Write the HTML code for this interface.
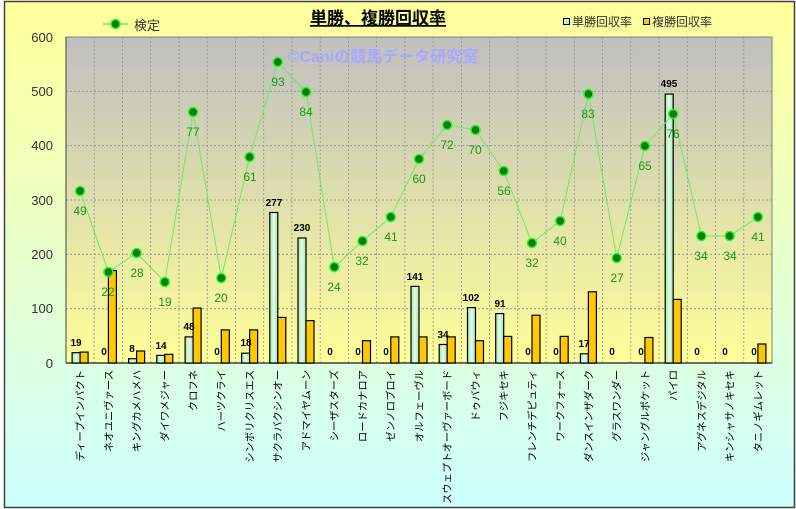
<!DOCTYPE html>
<html><head><meta charset="utf-8"><style>
html,body{margin:0;padding:0;width:796px;height:509px;overflow:hidden;background:#fff}
svg{display:block;font-family:"Liberation Sans","Noto Sans CJK JP",sans-serif}
</style></head><body>
<svg width="796" height="509" viewBox="0 0 796 509" xmlns="http://www.w3.org/2000/svg">
<defs>
<linearGradient id="bg" x1="0" y1="0" x2="0" y2="1"><stop offset="0" stop-color="#ffff99"/><stop offset="0.55" stop-color="#e6ffd0"/><stop offset="1" stop-color="#ccffff"/></linearGradient>
<linearGradient id="pa" x1="0" y1="0" x2="0" y2="1"><stop offset="0" stop-color="#bfbfbf"/><stop offset="1" stop-color="#ffff99"/></linearGradient>
<linearGradient id="gb" x1="0" y1="0" x2="1" y2="0"><stop offset="0" stop-color="#a8e0b0"/><stop offset="0.5" stop-color="#e0ffe6"/><stop offset="1" stop-color="#a8e0b0"/></linearGradient>
</defs>
<rect x="4.5" y="1.5" width="790" height="506" fill="url(#bg)" stroke="#404040" stroke-width="1.5"/>
<rect x="66" y="37" width="706" height="326" fill="url(#pa)" stroke="#808080"/>
<g stroke="#909090" stroke-dasharray="2,2" stroke-width="0.8">
<line x1="66" y1="91.3" x2="772" y2="91.3"/><line x1="66" y1="145.7" x2="772" y2="145.7"/><line x1="66" y1="200" x2="772" y2="200"/><line x1="66" y1="254.3" x2="772" y2="254.3"/><line x1="66" y1="308.7" x2="772" y2="308.7"/>
<line x1="94.2" y1="37" x2="94.2" y2="363"/><line x1="122.5" y1="37" x2="122.5" y2="363"/><line x1="150.7" y1="37" x2="150.7" y2="363"/><line x1="179" y1="37" x2="179" y2="363"/><line x1="207.2" y1="37" x2="207.2" y2="363"/><line x1="235.4" y1="37" x2="235.4" y2="363"/><line x1="263.7" y1="37" x2="263.7" y2="363"/><line x1="291.9" y1="37" x2="291.9" y2="363"/><line x1="320.2" y1="37" x2="320.2" y2="363"/><line x1="348.4" y1="37" x2="348.4" y2="363"/><line x1="376.6" y1="37" x2="376.6" y2="363"/><line x1="404.9" y1="37" x2="404.9" y2="363"/><line x1="433.1" y1="37" x2="433.1" y2="363"/><line x1="461.4" y1="37" x2="461.4" y2="363"/><line x1="489.6" y1="37" x2="489.6" y2="363"/><line x1="517.8" y1="37" x2="517.8" y2="363"/><line x1="546.1" y1="37" x2="546.1" y2="363"/><line x1="574.3" y1="37" x2="574.3" y2="363"/><line x1="602.6" y1="37" x2="602.6" y2="363"/><line x1="630.8" y1="37" x2="630.8" y2="363"/><line x1="659" y1="37" x2="659" y2="363"/><line x1="687.3" y1="37" x2="687.3" y2="363"/><line x1="715.5" y1="37" x2="715.5" y2="363"/><line x1="743.8" y1="37" x2="743.8" y2="363"/>
</g>
<line x1="66" y1="363" x2="772" y2="363" stroke="#404040" stroke-width="1.5"/>
<line x1="66" y1="37" x2="66" y2="363" stroke="#404040" stroke-width="1"/>
<g font-size="13" fill="#333" text-anchor="end">
<text x="53" y="42">600</text><text x="53" y="96">500</text><text x="53" y="150">400</text><text x="53" y="205">300</text><text x="53" y="259">200</text><text x="53" y="313">100</text><text x="53" y="368">0</text>
</g>
<text x="383" y="62" font-size="16" font-weight="bold" fill="#a8a8ff" text-anchor="middle">©Caniの競馬データ研究室</text>
<text x="378" y="24" font-size="17" font-weight="bold" fill="#000" text-anchor="middle" text-decoration="underline">単勝、複勝回収率</text>
<line x1="103" y1="24" x2="128" y2="24" stroke="#66ee66" stroke-width="1.5"/><circle cx="115.5" cy="24" r="4.5" fill="#008000" stroke="#33ee33" stroke-width="1.5"/>
<text x="134" y="30" font-size="13" fill="#333">検定</text>
<rect x="563.5" y="18.5" width="6" height="6" fill="#c8f0d0" stroke="#000"/><text x="572" y="26" font-size="12" fill="#333">単勝回収率</text>
<rect x="643.5" y="18.5" width="6" height="6" fill="#ffc800" stroke="#000"/><text x="652" y="26" font-size="12" fill="#333">複勝回収率</text>
<g stroke="#000" stroke-width="1.2" fill="url(#gb)">
<rect x="72.1" y="352.7" width="8" height="10.3"/>
<rect x="128.6" y="358.7" width="8" height="4.3"/>
<rect x="156.8" y="355.4" width="8" height="7.6"/>
<rect x="185.1" y="336.9" width="8" height="26.1"/>
<rect x="241.6" y="353.2" width="8" height="9.8"/>
<rect x="269.8" y="212.5" width="8" height="150.5"/>
<rect x="298" y="238" width="8" height="125"/>
<rect x="411" y="286.4" width="8" height="76.6"/>
<rect x="439.2" y="344.5" width="8" height="18.5"/>
<rect x="467.5" y="307.6" width="8" height="55.4"/>
<rect x="495.7" y="313.6" width="8" height="49.4"/>
<rect x="580.4" y="353.8" width="8" height="9.2"/>
<rect x="665.2" y="94.1" width="8" height="268.9"/>
</g>
<g stroke="#000" stroke-width="1.2" fill="#ffc800">
<rect x="80.1" y="352.1" width="8" height="10.9"/>
<rect x="108.4" y="270.6" width="8" height="92.4"/>
<rect x="136.6" y="351" width="8" height="12"/>
<rect x="164.8" y="354.3" width="8" height="8.7"/>
<rect x="193.1" y="308.1" width="8" height="54.9"/>
<rect x="221.3" y="329.9" width="8" height="33.1"/>
<rect x="249.6" y="329.9" width="8" height="33.1"/>
<rect x="277.8" y="317.4" width="8" height="45.6"/>
<rect x="306" y="320.6" width="8" height="42.4"/>
<rect x="362.5" y="340.7" width="8" height="22.3"/>
<rect x="390.8" y="336.9" width="8" height="26.1"/>
<rect x="419" y="336.9" width="8" height="26.1"/>
<rect x="447.2" y="336.9" width="8" height="26.1"/>
<rect x="475.5" y="340.7" width="8" height="22.3"/>
<rect x="503.7" y="336.4" width="8" height="26.6"/>
<rect x="532" y="315.2" width="8" height="47.8"/>
<rect x="560.2" y="336.4" width="8" height="26.6"/>
<rect x="588.4" y="291.8" width="8" height="71.2"/>
<rect x="644.9" y="337.5" width="8" height="25.5"/>
<rect x="673.2" y="299.4" width="8" height="63.6"/>
<rect x="757.9" y="344" width="8" height="19"/>
</g>
<g font-size="10" font-weight="bold" fill="#000" text-anchor="middle">
<text x="76" y="346">19</text><text x="104" y="355">0</text><text x="132" y="352">8</text><text x="161" y="349">14</text><text x="189" y="330">48</text><text x="217" y="355">0</text><text x="246" y="346">18</text><text x="274" y="206">277</text><text x="302" y="231">230</text><text x="330" y="355">0</text><text x="358" y="355">0</text><text x="386" y="355">0</text><text x="415" y="280">141</text><text x="443" y="338">34</text><text x="471" y="301">102</text><text x="500" y="307">91</text><text x="528" y="355">0</text><text x="556" y="355">0</text><text x="584" y="347">17</text><text x="612" y="355">0</text><text x="641" y="355">0</text><text x="669" y="87">495</text><text x="697" y="355">0</text><text x="725" y="355">0</text><text x="754" y="355">0</text>
</g>
<polyline fill="none" stroke="#66ee66" stroke-width="1" points="80.1,191 108.4,272 136.6,253 164.8,282 193.1,112 221.3,278 249.6,157 277.8,62 306,92 334.3,267 362.5,241 390.8,217 419,159 447.2,125 475.5,130 503.7,171 532,243 560.2,221 588.4,94 616.7,258 644.9,146 673.2,114 701.4,236 729.6,236 757.9,217"/>
<g fill="#008000" stroke="#33ee33" stroke-width="1.5">
<circle cx="80.1" cy="191" r="4.5"/><circle cx="108.4" cy="272" r="4.5"/><circle cx="136.6" cy="253" r="4.5"/><circle cx="164.8" cy="282" r="4.5"/><circle cx="193.1" cy="112" r="4.5"/><circle cx="221.3" cy="278" r="4.5"/><circle cx="249.6" cy="157" r="4.5"/><circle cx="277.8" cy="62" r="4.5"/><circle cx="306" cy="92" r="4.5"/><circle cx="334.3" cy="267" r="4.5"/><circle cx="362.5" cy="241" r="4.5"/><circle cx="390.8" cy="217" r="4.5"/><circle cx="419" cy="159" r="4.5"/><circle cx="447.2" cy="125" r="4.5"/><circle cx="475.5" cy="130" r="4.5"/><circle cx="503.7" cy="171" r="4.5"/><circle cx="532" cy="243" r="4.5"/><circle cx="560.2" cy="221" r="4.5"/><circle cx="588.4" cy="94" r="4.5"/><circle cx="616.7" cy="258" r="4.5"/><circle cx="644.9" cy="146" r="4.5"/><circle cx="673.2" cy="114" r="4.5"/><circle cx="701.4" cy="236" r="4.5"/><circle cx="729.6" cy="236" r="4.5"/><circle cx="757.9" cy="217" r="4.5"/>
</g>
<g font-size="12" fill="#1a9a1a" text-anchor="middle">
<text x="80" y="215">49</text><text x="108" y="296">22</text><text x="137" y="277">28</text><text x="165" y="306">19</text><text x="193" y="136">77</text><text x="221" y="302">20</text><text x="250" y="181">61</text><text x="278" y="86">93</text><text x="306" y="116">84</text><text x="334" y="291">24</text><text x="362" y="265">32</text><text x="391" y="241">41</text><text x="419" y="183">60</text><text x="447" y="149">72</text><text x="475" y="154">70</text><text x="504" y="195">56</text><text x="532" y="267">32</text><text x="560" y="245">40</text><text x="588" y="118">83</text><text x="617" y="282">27</text><text x="645" y="170">65</text><text x="673" y="138">76</text><text x="701" y="260">34</text><text x="730" y="260">34</text><text x="758" y="241">41</text>
</g>
<g font-size="10.3" fill="#000" text-anchor="end">
<text transform="translate(84,370) rotate(-90)">ディープインパクト</text>
<text transform="translate(112.3,370) rotate(-90)">ネオユニヴァース</text>
<text transform="translate(140.5,370) rotate(-90)">キングカメハメハ</text>
<text transform="translate(168.7,370) rotate(-90)">ダイワメジャー</text>
<text transform="translate(197,370) rotate(-90)">クロフネ</text>
<text transform="translate(225.2,370) rotate(-90)">ハーツクライ</text>
<text transform="translate(253.5,370) rotate(-90)">シンボリクリスエス</text>
<text transform="translate(281.7,370) rotate(-90)">サクラバクシンオー</text>
<text transform="translate(309.9,370) rotate(-90)">アドマイヤムーン</text>
<text transform="translate(338.2,370) rotate(-90)">シーザスターズ</text>
<text transform="translate(366.4,370) rotate(-90)">ロードカナロア</text>
<text transform="translate(394.7,370) rotate(-90)">ゼンノロブロイ</text>
<text transform="translate(422.9,370) rotate(-90)">オルフェーヴル</text>
<text transform="translate(451.1,370) rotate(-90)">スウェプトオーヴァーボード</text>
<text transform="translate(479.4,370) rotate(-90)">ドゥバウィ</text>
<text transform="translate(507.6,370) rotate(-90)">フジキセキ</text>
<text transform="translate(535.9,370) rotate(-90)">フレンチデピュティ</text>
<text transform="translate(564.1,370) rotate(-90)">ワークフォース</text>
<text transform="translate(592.3,370) rotate(-90)">ダンスインザダーク</text>
<text transform="translate(620.6,370) rotate(-90)">グラスワンダー</text>
<text transform="translate(648.8,370) rotate(-90)">ジャングルポケット</text>
<text transform="translate(677.1,370) rotate(-90)">パイロ</text>
<text transform="translate(705.3,370) rotate(-90)">アグネスデジタル</text>
<text transform="translate(733.5,370) rotate(-90)">キンシャサノキセキ</text>
<text transform="translate(761.8,370) rotate(-90)">タニノギムレット</text>
</g>
</svg>
</body></html>
